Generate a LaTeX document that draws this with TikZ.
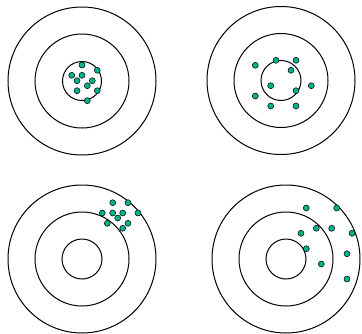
\documentclass[tikz,border=0pt]{standalone}
\definecolor{dotgreen}{RGB}{0,178,138}
\tikzset{
  ring/.style={draw=black, line width=1pt},
  shot/.style={circle, draw=black, line width=0.5pt, fill=dotgreen, inner sep=0pt, minimum size=6pt},
}
\begin{document}
\begin{tikzpicture}[x=1pt,y=-1pt]
\useasboundingbox (0,0) rectangle (362,333);
% target 1
\foreach \r/\n in {74/a, 47/b, 19.5/c} \draw[ring] (82,81) circle (\r);
% target 2
\foreach \r in {74,47,20} \draw[ring] (281,80.5) circle (\r);
% target 3
\foreach \r in {74,47,20} \draw[ring] (82,259) circle (\r);
% target 4
\foreach \r in {74,47,20} \draw[ring] (286,259) circle (\r);
% shots target 1
\foreach \x/\y [count=\i] in {82/65, 97.3/70.3, 71.7/75.3, 82/75.3, 77/80.7, 92.3/80.7, 87.3/85.7, 77/90.7, 97.3/90.7, 87.3/100.7}
  \node[shot] (a\i) at (\x,\y) {};
% shots target 2
\foreach \x/\y [count=\i] in {276/60.3, 296/60.3, 255.3/65.3, 291/70.3, 270.7/85.7, 311.3/85.7, 296/90.7, 255.3/96, 270.7/106, 296/106}
  \node[shot] (b\i) at (\x,\y) {};
% shots target 3
\foreach \x/\y [count=\i] in {112.7/202.7, 128/202.7, 102.3/213, 112.7/213, 122.7/213, 138/213, 117.7/218, 107.3/223.3, 128/223.3, 122.7/228.3}
  \node[shot] (c\i) at (\x,\y) {};
% shots target 4
\foreach \x/\y [count=\i] in {306.3/208, 336.7/208, 316.3/228.3, 331.7/228.3, 301/233.3, 352/233.3, 306.3/248.7, 347/253.7, 321.3/264, 347/279}
  \node[shot] (d\i) at (\x,\y) {};
\end{tikzpicture}
\end{document}
